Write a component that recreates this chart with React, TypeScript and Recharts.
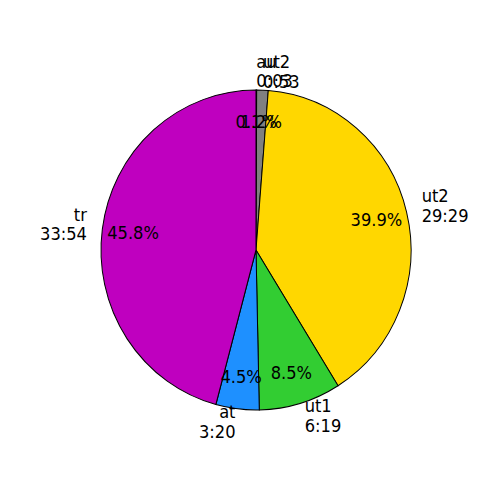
import { PieChart, Pie, Cell } from 'recharts'

const names = ['au', 'ut2', 'ut2', 'ut1', 'at', 'tr']
const seconds = [3, 53, 1769, 379, 200, 2034]
const colors = ['#000000', '#808080', '#FFD700', '#32CD32', '#1E90FF', '#BF00BF']

const RAD = Math.PI / 180
const FONT = '"DejaVu Sans", sans-serif'

const fmt = (s: number) => `${Math.floor(s / 60)}:${String(s % 60).padStart(2, '0')}`

const data = names.map((name, i) => ({ name, value: seconds[i] }))

function renderLabel(props: any) {
  const { cx, cy, midAngle, outerRadius, percent, name, value } = props
  const cos = Math.cos(-midAngle * RAD)
  const sin = Math.sin(-midAngle * RAD)
  const lx = cx + outerRadius * 1.1 * cos
  const ly = cy + outerRadius * 1.1 * sin
  const px = cx + outerRadius * 0.8 * cos
  const py = cy + outerRadius * 0.8 * sin
  return (
    <g>
      <text
        x={lx}
        y={ly}
        textAnchor={cos >= 0 ? 'start' : 'end'}
        fontFamily={FONT}
        fontSize={16.3}
        fill="#000"
      >
        <tspan x={lx} y={ly - 6}>{name}</tspan>
        <tspan x={lx} y={ly + 13}>{fmt(value)}</tspan>
      </text>
      <text x={px} y={py + 6} textAnchor="middle" fontFamily={FONT} fontSize={16.3} fill="#000">
        {(percent * 100).toFixed(1)}%
      </text>
    </g>
  )
}

export default function App() {
  // the reference pie is a touch taller than wide
  return (
    <div style={{ width: 492, height: 492, transform: 'scaleY(1.032)', transformOrigin: '0 242px' }}>
      <PieChart width={492} height={492} margin={{ top: 0, right: 0, bottom: 0, left: 0 }}>
        <Pie
          data={data}
          dataKey="value"
          nameKey="name"
          cx={248}
          cy={242}
          outerRadius={155}
          startAngle={90}
          endAngle={-270}
          stroke="#000"
          strokeWidth={1}
          label={renderLabel}
          labelLine={false}
          isAnimationActive={false}
        >
          {data.map((d, i) => (
            <Cell key={i} fill={colors[i]} />
          ))}
        </Pie>
      </PieChart>
    </div>
  )
}
